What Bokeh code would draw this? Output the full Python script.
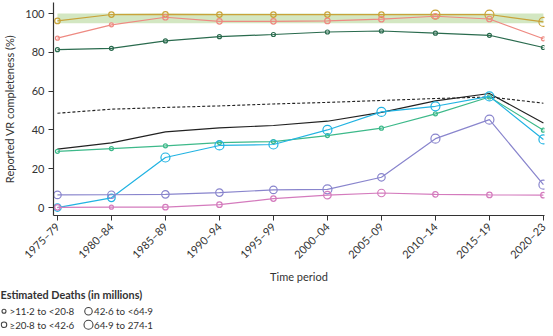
import math
from bokeh.plotting import figure
from bokeh.models import Range1d, FixedTicker, ColumnDataSource
from bokeh.embed import file_html
from bokeh.resources import INLINE
from bokeh.core.properties import value

# ---------------- data ----------------
periods = ["1975–79", "1980–84", "1985–89", "1990–94", "1995–99",
           "2000–04", "2005–09", "2010–14", "2015–19", "2020–23"]

gold = [96.2, 99.5, 99.6, 99.5, 99.5, 99.5, 99.5, 99.5, 99.5, 95.7]
gold_cat = ["S", "S", "S", "S", "S", "S", "S", "L", "L", "L"]

salmon = [87.3, 94.2, 98.1, 96.0, 96.0, 96.2, 97.1, 98.6, 97.2, 87.0]
salmon_cat = ["T", "T", "S", "S", "S", "S", "S", "S", "S", "T"]

darkgreen = [81.4, 82.1, 85.9, 88.1, 89.2, 90.5, 91.0, 89.9, 88.8, 82.5]
darkgreen_cat = ["T"] * 10

dashed_avg = [48.6, 50.7, 51.6, 52.4, 53.4, 54.2, 55.2, 56.2, 57.0, 53.8]

black = [30.1, 33.3, 39.0, 41.1, 42.3, 44.5, 49.1, 55.0, 58.8, 43.6]

teal = [29.0, 30.4, 31.8, 33.5, 34.0, 37.1, 40.9, 48.3, 57.0, 39.9]
teal_cat = ["T"] * 10

cyan = [0.0, 5.0, 25.8, 32.0, 32.5, 40.0, 49.3, 52.2, 57.3, 35.1]
cyan_cat = ["M", "M", "L", "L", "L", "L", "L", "L", "L", "L"]

purple = [6.5, 6.6, 6.8, 7.7, 9.1, 9.4, 15.6, 35.5, 45.3, 11.8]
purple_cat = ["M", "M", "M", "M", "M", "L", "M", "L", "L", "L"]

pink = [0.1, 0.2, 0.2, 1.5, 4.6, 6.4, 7.5, 6.8, 6.5, 6.4]
pink_cat = ["S", "T", "S", "S", "S", "M", "M", "S", "S", "S"]

band_low, band_high = 95, 100

yticks = [0, 20, 40, 60, 80, 100]

legend_title = "Estimated Deaths (in millions)"
legend_labels = [">11·2 to <20·8", "≥20·8 to <42·6", "42·6 to <64·9", "64·9 to 274·1"]
legend_cats = ["T", "S", "M", "L"]

# ---------------- style ----------------
FONT = "Lato"
TXT = "#333333"
size_map = {"T": 4, "S": 5.5, "M": 7.5, "L": 9}

series = [
    (gold, gold_cat, "#c9a33a"),
    (salmon, salmon_cat, "#ee8a82"),
    (darkgreen, darkgreen_cat, "#2a6b4e"),
    (teal, teal_cat, "#3db98a"),
    (cyan, cyan_cat, "#22b3e2"),
    (purple, purple_cat, "#8985cd"),
    (pink, pink_cat, "#d47bbd"),
]

xs = list(range(len(periods)))

MAIN_H = 286
p = figure(width=553, height=MAIN_H, output_backend="svg", toolbar_location=None,
           x_range=Range1d(-0.073, 9.02), y_range=Range1d(-4.1, 105.7),
           min_border_left=47, min_border_right=9, min_border_top=2,
           min_border_bottom=60)
p.outline_line_color = None
p.xgrid.visible = False
p.ygrid.visible = False
p.background_fill_color = "white"

p.varea(x=xs, y1=[band_low] * len(xs), y2=[band_high] * len(xs),
        fill_color="#d3e7c2", fill_alpha=1.0)

p.line(xs, dashed_avg, line_color="#222222", line_width=1.1, line_dash="3 2")
p.line(xs, black, line_color="#222222", line_width=1.2)

for vals, cats, col in series:
    p.line(xs, vals, line_color=col, line_width=1.2)
    src = ColumnDataSource(dict(x=xs, y=vals, s=[size_map[c] for c in cats]))
    p.scatter("x", "y", size="s", source=src, marker="circle",
              fill_alpha=0, line_color=col, line_width=1.2)

p.xaxis.ticker = FixedTicker(ticks=xs)
p.xaxis.major_label_overrides = {i: lab for i, lab in enumerate(periods)}
p.xaxis.major_label_orientation = math.pi / 4
p.xaxis.axis_label = "Time period"
p.yaxis.ticker = FixedTicker(ticks=yticks)
p.yaxis.axis_label = "Reported VR completeness (%)"

for ax in (p.xaxis[0], p.yaxis[0]):
    ax.axis_line_color = "#333333"
    ax.axis_line_width = 1.2
    ax.major_tick_line_color = "#333333"
    ax.major_tick_in = 0
    ax.major_tick_out = 5
    ax.minor_tick_line_color = None
    ax.major_label_text_font = FONT
    ax.major_label_text_font_size = "11px"
    ax.major_label_text_color = TXT
    ax.axis_label_text_font = FONT
    ax.axis_label_text_font_size = "11px"
    ax.axis_label_text_font_style = "normal"
    ax.axis_label_text_color = TXT
    ax.major_label_standoff = 4
p.xaxis[0].axis_label_standoff = 2
p.yaxis[0].axis_label_standoff = 6

# ---------------- legend figure (separate root, 1:1 pixel coordinates) ----------------
LEG_H = 336 - MAIN_H
lg = figure(width=553, height=LEG_H, output_backend="svg", toolbar_location=None,
            x_range=Range1d(0, 553), y_range=Range1d(LEG_H, 0),
            x_axis_type=None, y_axis_type=None,
            min_border_left=0, min_border_right=0, min_border_top=0, min_border_bottom=0)
lg.outline_line_color = None
lg.xgrid.visible = False
lg.ygrid.visible = False

lg.text(x=[0], y=[8.2], text=[legend_title], text_font=value(FONT),
        text_font_size="10.8px", text_font_style="bold", text_color=TXT,
        text_baseline="middle")

col_x = [3.5, 3.5, 88, 88]
row_y = [24.8, 38.3, 24.8, 38.3]
lg.scatter(x=col_x, y=row_y, size=[size_map[c] for c in legend_cats],
           marker="circle", fill_alpha=0, line_color="#444444", line_width=1.1)
lg.text(x=[c + 5.5 for c in col_x], y=row_y,
        text=legend_labels, text_font=value(FONT), text_font_size="9.8px",
        text_color=TXT, text_baseline="middle")

open("out.html", "w").write(file_html([p, lg], INLINE))
